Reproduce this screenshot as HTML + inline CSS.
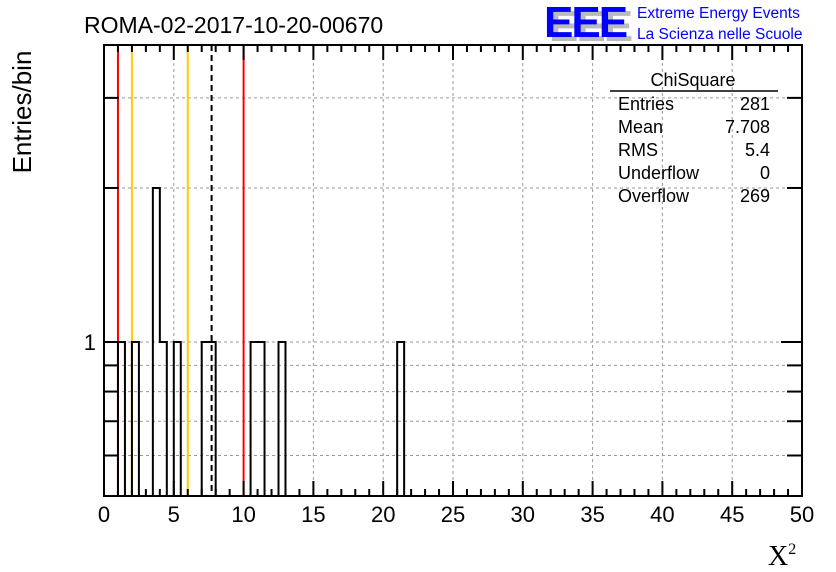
<!DOCTYPE html>
<html><head><meta charset="utf-8">
<style>
body{margin:0;background:#fff;}
svg{display:block;font-family:"Liberation Sans",sans-serif;}
</style></head>
<body>
<svg id="chart" width="836" height="572" xmlns="http://www.w3.org/2000/svg">
<text x="84" y="33" font-size="23">ROMA-02-2017-10-20-00670</text>
<g>
<text x="549" y="41" font-size="44" font-weight="bold" fill="#bbb" letter-spacing="-2">EEE</text>
<text x="544" y="37" font-size="44" font-weight="bold" fill="#0000ff" letter-spacing="-2">EEE</text>
<text x="637" y="18" font-size="15.5" fill="#0000ff">Extreme Energy Events</text>
<text x="637" y="39" font-size="15.5" fill="#0000ff">La Scienza nelle Scuole</text>
</g>
<g id="grid"></g>
<g id="marks"></g>
<g id="axes"></g>
<g font-size="18">
<text x="693" y="86" text-anchor="middle">ChiSquare</text>
<line x1="610" y1="91" x2="778" y2="91" stroke="#000" stroke-width="1.5"/>
<text x="618" y="110">Entries</text><text x="770" y="110" text-anchor="end">281</text>
<text x="618" y="133">Mean</text><text x="770" y="133" text-anchor="end">7.708</text>
<text x="618" y="156">RMS</text><text x="770" y="156" text-anchor="end">5.4</text>
<text x="618" y="179">Underflow</text><text x="770" y="179" text-anchor="end">0</text>
<text x="618" y="202">Overflow</text><text x="770" y="202" text-anchor="end">269</text>
</g>
<text x="768" y="565" font-size="28" font-family="Liberation Serif,serif">X<tspan font-size="16" dy="-11">2</tspan></text>
<text transform="translate(31,112) rotate(-90)" font-size="26" text-anchor="middle">Entries/bin</text>
</svg>
<script>
const binLow = [1, 2, 3.5, 4, 5, 7, 7.5, 10.5, 11, 12.5, 21];
const binCounts = [1, 1, 2, 1, 1, 1, 1, 1, 1, 1, 1];
const binWidth = 0.5;
const xTickLabels = [0,5,10,15,20,25,30,35,40,45,50];
const yGridValues = [0.6,0.7,0.8,0.9,1,2,3];
const redLines = [1, 10];
const yellowLines = [2, 6];
const meanValue = 7.708;

const L=104,R=802,T=45,B=496, xMin=0,xMax=50, yMin=0.5,yMax=3.806;
const X=v=>L+(v-xMin)/(xMax-xMin)*(R-L);
const Y=v=>B-(Math.log10(v)-Math.log10(yMin))/(Math.log10(yMax)-Math.log10(yMin))*(B-T);
const NS="http://www.w3.org/2000/svg";
function mk(parent,tag,attrs){const e=document.createElementNS(NS,tag);for(const k in attrs)e.setAttribute(k,attrs[k]);document.getElementById(parent).appendChild(e);return e;}
for(const v of xTickLabels){if(v===0||v===50)continue;
 const g=mk('grid','line',{x1:X(v),x2:X(v),y1:T,y2:B,stroke:'#999','stroke-dasharray':'3,3','stroke-width':1});
 
 }
for(const v of yGridValues){
 const g=mk('grid','line',{x1:L,x2:R,y1:Y(v),y2:Y(v),stroke:'#999','stroke-dasharray':'3,3','stroke-width':1});
 
 }
for(const v of redLines){
 const l=mk('marks','line',{x1:X(v),x2:X(v),y1:T,y2:B,stroke:'#ff0000','stroke-width':2});
 
 }
for(const v of yellowLines){
 const l=mk('marks','line',{x1:X(v),x2:X(v),y1:T,y2:B,stroke:'#ffcc00','stroke-width':2});
 
 }
const ml=mk('marks','line',{x1:X(meanValue),x2:X(meanValue),y1:T,y2:B,stroke:'#000','stroke-width':2,'stroke-dasharray':'6,4'});


// histogram outline: contiguous bins merged
let d='';
for(let i=0;i<binLow.length;i++){
 const x0=X(binLow[i]),x1=X(binLow[i]+binWidth),y=Y(binCounts[i]);
 const contPrev=i>0&&Math.abs(binLow[i-1]+binWidth-binLow[i])<1e-9;
 const contNext=i<binLow.length-1&&Math.abs(binLow[i]+binWidth-binLow[i+1])<1e-9;
 if(!contPrev)d+=`M${x0},${B}`;
 d+=`V${y}H${x1}`;
 if(!contNext)d+=`V${B}`;
}
const hp=mk('marks','path',{d:d,fill:'none',stroke:'#000','stroke-width':2});


const fr=mk('axes','rect',{x:L,y:T,width:R-L,height:B-T,fill:'none',stroke:'#000','stroke-width':2});


for(let v=0;v<=50;v++){const major=v%5===0,len=major?15:7,x=X(v);
 const t1=mk('axes','line',{x1:x,x2:x,y1:B,y2:B-len,stroke:'#000','stroke-width':2});
 
 
 const t2=mk('axes','line',{x1:x,x2:x,y1:T,y2:T+len,stroke:'#000','stroke-width':2});
 
 }
for(const v of xTickLabels){
 const t=mk('axes','text',{x:X(v),y:522,'font-size':22,'text-anchor':'middle'});t.textContent=v;
 
 }
for(const v of yGridValues){const len=v===1?21:15,y=Y(v);
 const a=mk('axes','line',{x1:L,x2:L+len,y1:y,y2:y,stroke:'#000','stroke-width':2});
 
 
 const b=mk('axes','line',{x1:R,x2:R-len,y1:y,y2:y,stroke:'#000','stroke-width':2});
 
 }
const yl=mk('axes','text',{x:96,y:Y(1)+8,'font-size':22,'text-anchor':'end'});yl.textContent='1';


</script>
</body></html>
